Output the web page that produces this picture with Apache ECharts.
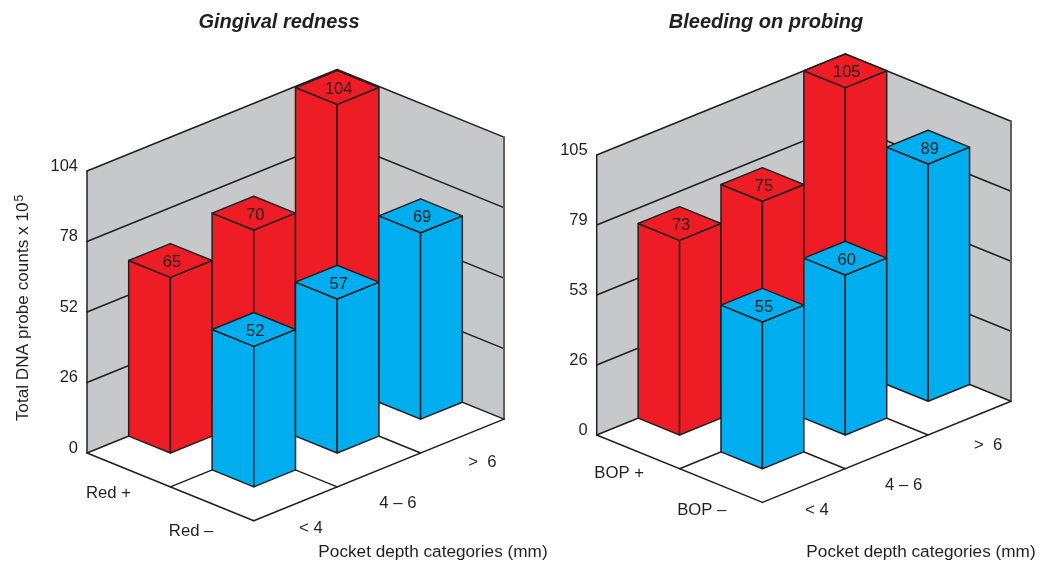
<!DOCTYPE html>
<html>
<head>
<meta charset="utf-8">
<style>html,body{margin:0;padding:0;background:#fff}#c{width:1050px;height:575px}</style>
<script src="https://cdn.jsdelivr.net/npm/echarts@6/dist/echarts.min.js"></script>
</head>
<body>
<div id="c"></div>
<script>
// ---- data ----
const depthCategories = ['< 4', '4 \u2013 6', '>  6'];
const redRows = ['Red +', 'Red \u2013'];
const bopRows = ['BOP +', 'BOP \u2013'];
const gingivalPositive = [65, 70, 104];
const gingivalNegative = [52, 57, 69];
const bleedingPositive = [73, 75, 105];
const bleedingNegative = [55, 60, 89];
const gingivalTicks = ['0', '26', '52', '78', '104'];
const bleedingTicks = ['0', '26', '53', '79', '105'];

// ---- layout ----
const INK = '#231f20', WALL = '#c7c8ca', RED = '#ee1c25', BLUE = '#00aeef', FONT = '"Liberation Sans", Arial, sans-serif';
const panels = [
  { title: 'Gingival redness', titleX: 279, axisX: 433, rows: redRows, pos: gingivalPositive, neg: gingivalNegative, ticks: gingivalTicks,
    grid: { left: 87, top: 171, width: 417, height: 282 }, max: 104.4, interval: 26.1, slope: 0.4059,
    rowOff: [[-20.2, 23], [-21, 27.3]], colOff: [[15.4, 24.5], [19, 33.5], [20.2, 26.2]] },
  { title: 'Bleeding on probing', titleX: 766, axisX: 921, rows: bopRows, pos: bleedingPositive, neg: bleedingNegative, ticks: bleedingTicks,
    grid: { left: 596.7, top: 155, width: 414.3, height: 280 }, max: 105, interval: 26.25, slope: 0.4065,
    rowOff: [[-19, 21.3], [-19.2, 24.8]], colOff: [[13, 24.5], [16.9, 34], [18.5, 26.8]] }
];

function projector(api, slope) {
  const unit = api.size([1, 0])[0];
  return function (u, v, h) {
    const c = api.coord([u + v, h]);
    return [c[0], c[1] + (v - u) * unit * slope];
  };
}
function line(a, b, stroke, lw) {
  return { type: 'line', shape: { x1: a[0], y1: a[1], x2: b[0], y2: b[1] }, style: { stroke: stroke || INK, lineWidth: lw || 1.5, lineCap: 'round' }, silent: true };
}
function poly(points, fill) {
  return { type: 'polygon', shape: { points: points }, style: { fill: fill, stroke: INK, lineWidth: 1.5, lineJoin: 'round' }, silent: true };
}
function frameSeries(p, i) {
  return {
    type: 'custom', xAxisIndex: i, yAxisIndex: i, silent: true, z: 1, data: [[0, 0]],
    renderItem: function (params, api) {
      const P = projector(api, p.slope), U = 3, V = 2, H = p.max;
      const ch = [];
      ch.push({ type: 'polygon', shape: { points: [P(0,0,0), P(0,0,H), P(U,0,H), P(U,0,0)] }, style: { fill: WALL }, silent: true });
      ch.push({ type: 'polygon', shape: { points: [P(U,0,0), P(U,0,H), P(U,V,H), P(U,V,0)] }, style: { fill: WALL }, silent: true });
      for (let t = 0; t < p.ticks.length; t++) {
        const h = t * p.interval;
        ch.push(line(P(0,0,h), P(U,0,h)));
        ch.push(line(P(U,0,h), P(U,V,h)));
      }
      ch.push(line(P(0,0,0), P(0,0,H)));
      ch.push(line(P(U,0,0), P(U,0,H)));
      ch.push(line(P(U,V,0), P(U,V,H), '#5f6062', 2));
      ch.push(line(P(0,0,0), P(0,V,0)));
      ch.push(line(P(0,V,0), P(U,V,0)));
      ch.push(line(P(0,1,0), P(U,1,0)));
      ch.push(line(P(1,0,0), P(1,V,0)));
      ch.push(line(P(2,0,0), P(2,V,0)));
      return { type: 'group', children: ch };
    }
  };
}
function barSeries(p, i, values, row, fill) {
  return {
    type: 'custom', xAxisIndex: i, yAxisIndex: i, silent: true, z: 2 + row,
    data: values.map((v, c) => [c, v]),
    renderItem: function (params, api) {
      const P = projector(api, p.slope);
      const c = api.value(0), h = api.value(1);
      const u0 = c + 0.5, u1 = c + 1, v0 = row, v1 = row + 0.5;
      const top = P((u0 + u1) / 2, (v0 + v1) / 2, h);
      return { type: 'group', children: [
        poly([P(u0,v0,0), P(u0,v1,0), P(u0,v1,h), P(u0,v0,h)], fill),
        poly([P(u0,v1,0), P(u1,v1,0), P(u1,v1,h), P(u0,v1,h)], fill),
        poly([P(u0,v0,h), P(u0,v1,h), P(u1,v1,h), P(u1,v0,h)], fill),
        { type: 'text', silent: true, style: { text: String(h), x: top[0] + 1.5, y: top[1] + 2, align: 'center', verticalAlign: 'middle', fill: INK, font: '16.5px ' + FONT } }
      ] };
    }
  };
}
function labelSeries(p, i) {
  return {
    type: 'custom', xAxisIndex: i, yAxisIndex: i, silent: true, z: 5, data: [[0, 0]],
    renderItem: function (params, api) {
      const P = projector(api, p.slope), ch = [];
      const txt = (s, q, o) => ({ type: 'text', silent: true, style: { text: s, x: q[0] + o[0], y: q[1] + o[1], align: 'center', verticalAlign: 'middle', fill: INK, font: '16.7px ' + FONT } });
      p.rows.forEach((s, r) => ch.push(txt(s, P(0, r + 0.5, 0), p.rowOff[r])));
      depthCategories.forEach((s, c) => ch.push(txt(s, P(c + 0.5, 2, 0), p.colOff[c])));
      return { type: 'group', children: ch };
    }
  };
}

const option = {
  animation: false,
  backgroundColor: '#fff',
  title: panels.map(p => ({ text: p.title, left: p.titleX, top: 12, textAlign: 'center', padding: 0, textStyle: { fontFamily: FONT, fontSize: 20, fontWeight: 'bold', fontStyle: 'italic', color: INK } }))
    .concat(panels.map(p => ({ text: 'Pocket depth categories (mm)', left: p.axisX, top: 543.5, textAlign: 'center', padding: 0, textStyle: { fontFamily: FONT, fontSize: 17.2, fontWeight: 'normal', color: INK } }))),
  grid: panels.map(p => p.grid),
  xAxis: panels.map((p, i) => ({ type: 'value', gridIndex: i, min: 0, max: 5, show: false })),
  yAxis: panels.map((p, i) => ({
    type: 'value', gridIndex: i, min: 0, max: p.max, interval: p.interval,
    axisLine: { show: false }, axisTick: { show: false }, splitLine: { show: false },
    axisLabel: { margin: 9, verticalAlign: 'bottom', lineHeight: 10, color: INK, fontFamily: FONT, fontSize: 16.5, formatter: (v, idx) => p.ticks[Math.round(v / p.interval)] },
    name: i === 0 ? 'Total DNA probe counts x 10{sup|5}' : '', nameLocation: 'middle', nameGap: 55,
    nameTextStyle: { color: INK, fontFamily: FONT, fontSize: 17.2, padding: [0, 0, 0, 8], rich: { sup: { fontSize: 12, fontFamily: FONT, color: INK, verticalAlign: 'top', padding: [0, 0, 6, 1] } } }
  })),
  series: panels.flatMap((p, i) => [
    frameSeries(p, i),
    barSeries(p, i, p.pos, 0, RED),
    barSeries(p, i, p.neg, 1, BLUE),
    labelSeries(p, i)
  ])
};
echarts.init(document.getElementById('c'), null, { renderer: 'canvas' }).setOption(option);
</script>
</body>
</html>
